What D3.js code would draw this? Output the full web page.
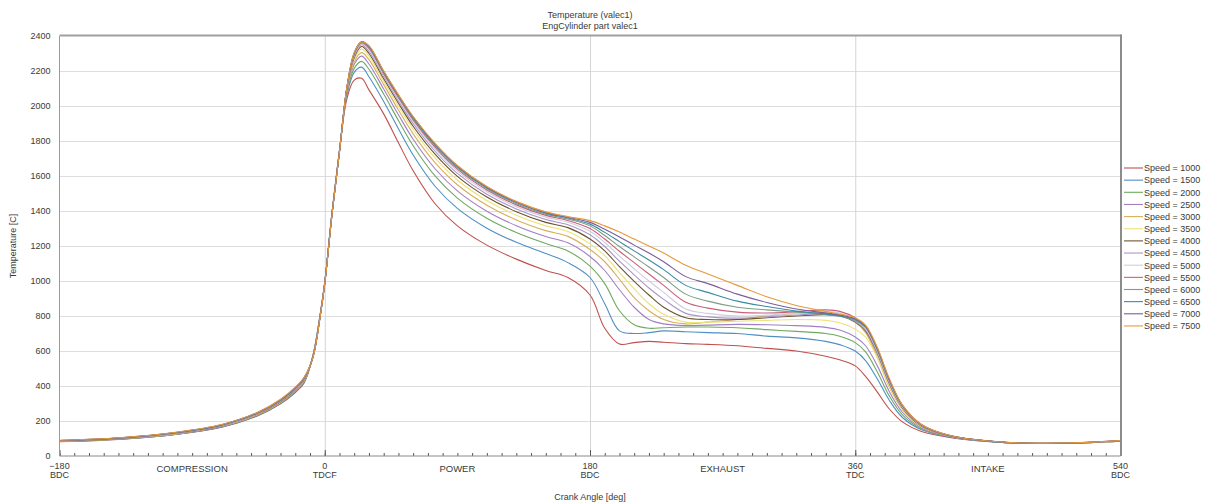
<!DOCTYPE html>
<html>
<head>
<meta charset="utf-8">
<script src="https://cdn.jsdelivr.net/npm/d3@7"></script>
<style>
  html, body { margin: 0; padding: 0; background: #fff; }
  svg text { font-family: "Liberation Sans", Arial, sans-serif; fill: #3a3a3a; }
</style>
</head>
<body>
<svg id="chart" width="1205" height="504"></svg>
<script>
// Crank angle grid [deg] shared by all speed series
const crankAngles = [-180, -140, -100, -70, -45, -30, -20, -14, -8, -3, 0, 5, 10, 15, 20, 25, 30, 40, 50, 60, 75, 90, 110, 130, 150, 165, 180,
  190, 200, 210, 220, 230, 245, 260, 280, 300, 320, 340, 350, 360, 367, 375, 383, 392, 405, 425, 460, 500, 540];

const speeds = [1000, 1500, 2000, 2500, 3000, 3500, 4000, 4500, 5000, 5500, 6000, 6500, 7000, 7500];

// In-cylinder temperature [C] for each engine speed
const tempS1000 = [82, 95, 124, 165, 232, 298, 363, 418, 575, 815, 992, 1395, 1745, 2040, 2148, 2158, 2092, 1955, 1790, 1630, 1440, 1315, 1205, 1125, 1060, 1020, 920,
  730, 640, 648, 655, 650, 642, 638, 630, 615, 600, 570, 548, 515, 455, 365, 270, 195, 140, 105, 78, 72, 84];
const tempS1500 = [83, 96, 125, 166, 234, 300, 366, 421, 573, 813, 991, 1394, 1744, 2060, 2192, 2222, 2167, 2026, 1870, 1720, 1540, 1415, 1302, 1221, 1157, 1105, 1020,
  870, 715, 700, 705, 715, 710, 705, 700, 685, 675, 655, 635, 600, 545, 440, 320, 220, 150, 108, 78, 72, 84];
const tempS2000 = [83, 96, 126, 167, 235, 302, 368, 424, 572, 812, 990, 1393, 1744, 2070, 2215, 2255, 2210, 2068, 1917, 1773, 1599, 1474, 1359, 1277, 1214, 1172, 1085,
  985, 830, 750, 730, 733, 737, 737, 733, 722, 712, 700, 683, 648, 595, 480, 345, 235, 155, 110, 78, 72, 85];
const tempS2500 = [84, 97, 127, 168, 237, 304, 371, 427, 571, 811, 990, 1392, 1743, 2078, 2238, 2285, 2240, 2097, 1950, 1810, 1640, 1515, 1399, 1316, 1254, 1218, 1140,
  1060, 950, 850, 780, 755, 745, 748, 752, 750, 745, 735, 718, 680, 630, 515, 370, 250, 160, 110, 78, 72, 85];
const tempS3000 = [85, 98, 128, 170, 239, 306, 374, 430, 570, 810, 989, 1391, 1743, 2085, 2252, 2305, 2265, 2122, 1977, 1841, 1675, 1550, 1433, 1349, 1288, 1255, 1180,
  1110, 1010, 905, 830, 780, 755, 765, 780, 800, 815, 820, 805, 765, 705, 565, 395, 265, 165, 112, 78, 72, 85];
const tempS3500 = [85, 99, 129, 171, 240, 308, 376, 432, 569, 809, 989, 1390, 1742, 2090, 2265, 2325, 2285, 2141, 1999, 1866, 1702, 1577, 1460, 1376, 1315, 1283, 1212,
  1145, 1048, 955, 870, 810, 765, 765, 770, 775, 780, 775, 760, 725, 680, 560, 400, 268, 167, 112, 78, 72, 85];
const tempS4000 = [86, 99, 130, 172, 242, 310, 378, 435, 568, 808, 988, 1390, 1742, 2094, 2277, 2340, 2300, 2156, 2016, 1884, 1723, 1598, 1480, 1396, 1335, 1305, 1240,
  1172, 1082, 998, 920, 850, 790, 780, 780, 790, 800, 808, 800, 765, 715, 585, 415, 275, 170, 113, 78, 72, 86];
const tempS4500 = [86, 100, 131, 173, 243, 312, 381, 437, 567, 807, 988, 1389, 1741, 2097, 2285, 2350, 2312, 2168, 2029, 1900, 1740, 1615, 1496, 1412, 1351, 1322, 1264,
  1197, 1113, 1035, 960, 895, 815, 795, 788, 795, 805, 815, 805, 770, 720, 590, 420, 278, 172, 113, 78, 72, 86];
const tempS5000 = [87, 101, 132, 174, 245, 314, 383, 440, 566, 806, 987, 1389, 1741, 2100, 2290, 2356, 2322, 2178, 2040, 1912, 1754, 1629, 1510, 1425, 1365, 1336, 1284,
  1220, 1142, 1070, 1000, 935, 840, 815, 800, 805, 815, 825, 815, 780, 730, 600, 428, 282, 174, 114, 79, 73, 86];
const tempS5500 = [88, 101, 133, 176, 246, 316, 385, 442, 566, 806, 987, 1388, 1740, 2102, 2295, 2360, 2330, 2185, 2049, 1921, 1764, 1639, 1520, 1435, 1375, 1346, 1300,
  1240, 1170, 1105, 1040, 975, 878, 845, 822, 817, 825, 835, 825, 790, 740, 608, 433, 285, 176, 114, 79, 73, 87];
const tempS6000 = [88, 102, 134, 177, 248, 318, 387, 444, 565, 805, 986, 1388, 1740, 2103, 2298, 2363, 2335, 2190, 2054, 1928, 1771, 1646, 1527, 1442, 1382, 1354, 1315,
  1260, 1197, 1138, 1080, 1020, 925, 885, 850, 835, 822, 808, 797, 775, 735, 606, 435, 287, 177, 115, 79, 73, 87];
const tempS6500 = [89, 103, 135, 178, 249, 320, 389, 446, 565, 805, 986, 1387, 1739, 2104, 2302, 2366, 2340, 2195, 2060, 1934, 1778, 1653, 1533, 1448, 1388, 1360, 1325,
  1278, 1225, 1172, 1120, 1065, 975, 935, 885, 854, 828, 812, 800, 780, 740, 612, 438, 289, 178, 115, 79, 73, 87];
const tempS7000 = [89, 103, 136, 179, 251, 322, 391, 448, 564, 804, 985, 1387, 1739, 2105, 2305, 2368, 2342, 2198, 2062, 1937, 1782, 1657, 1537, 1452, 1392, 1364, 1335,
  1296, 1252, 1205, 1160, 1110, 1025, 985, 925, 877, 840, 817, 805, 785, 742, 616, 440, 290, 179, 115, 80, 73, 88];
const tempS7500 = [90, 104, 137, 180, 252, 324, 393, 450, 564, 804, 985, 1386, 1738, 2105, 2305, 2366, 2345, 2200, 2065, 1940, 1785, 1660, 1540, 1455, 1395, 1368, 1345,
  1315, 1280, 1240, 1200, 1160, 1090, 1040, 975, 910, 860, 826, 810, 790, 748, 620, 445, 292, 180, 116, 80, 74, 88];

const seriesTemps = [tempS1000, tempS1500, tempS2000, tempS2500, tempS3000, tempS3500, tempS4000,
  tempS4500, tempS5000, tempS5500, tempS6000, tempS6500, tempS7000, tempS7500];

const seriesColors = ["#c0504d", "#4f8fc4", "#6faa60", "#a080c4", "#d9ae5c", "#ece276", "#6b5331",
  "#a996c8", "#cfcde0", "#c9607a", "#7f9c86", "#3a8ca2", "#7b5c9c", "#e59a3c"];

// Axis ticks and labels
const yTickValues = [0, 200, 400, 600, 800, 1000, 1200, 1400, 1600, 1800, 2000, 2200, 2400];
const xTickValues = [-180, 0, 180, 360, 540];
const xTickNames = ["BDC", "TDCF", "BDC", "TDC", "BDC"];
const phaseAngles = [-90, 90, 270, 450];
const phaseNames = ["COMPRESSION", "POWER", "EXHAUST", "INTAKE"];

const plotL = 59.5, plotR = 1120.5, plotT = 36, plotB = 456;

const svg = d3.select("#chart");
const x = d3.scaleLinear().domain([-180, 540]).range([plotL, plotR]);
const y = d3.scaleLinear().domain([0, 2400]).range([plotB, plotT]);

// horizontal grid
svg.append("g")
  .attr("transform", `translate(${plotL},0)`)
  .call(d3.axisLeft(y).tickValues(yTickValues.slice(1, -1)).tickSize(-(plotR - plotL)).tickFormat(""))
  .call(g => g.select(".domain").remove())
  .call(g => g.selectAll("line").attr("stroke", "#dedede").attr("stroke-width", 1));

// vertical grid at TDC/BDC
svg.append("g")
  .attr("transform", `translate(0,${plotB})`)
  .call(d3.axisBottom(x).tickValues(xTickValues.slice(1, -1)).tickSize(-(plotB - plotT)).tickFormat(""))
  .call(g => g.select(".domain").remove())
  .call(g => g.selectAll("line").attr("stroke", "#d4d4d4").attr("stroke-width", 1));

// minor x ticks every 10 deg, pointing inward
svg.append("g")
  .attr("transform", `translate(0,${plotB})`)
  .call(d3.axisBottom(x).tickValues(d3.range(-180, 541, 10)).tickSize(-3).tickFormat(""))
  .call(g => g.select(".domain").remove())
  .call(g => g.selectAll("line").attr("stroke", "#555").attr("stroke-width", 1));
svg.append("g")
  .attr("transform", `translate(0,${plotB})`)
  .call(d3.axisBottom(x).tickValues(xTickValues).tickSize(-6).tickFormat(""))
  .call(g => g.select(".domain").remove())
  .call(g => g.selectAll("line").attr("stroke", "#555").attr("stroke-width", 1));

// series lines
const line = d3.line()
  .x((d, i) => x(crankAngles[i]))
  .y(d => y(d))
  .curve(d3.curveCatmullRom.alpha(0.5));

svg.append("g")
  .attr("fill", "none")
  .selectAll("path")
  .data(seriesTemps)
  .join("path")
  .attr("d", d => line(d))
  .attr("stroke", (d, i) => seriesColors[i])
  .attr("stroke-width", 1.1)
  .attr("stroke-linejoin", "round");

// frame
const frame = svg.append("g").attr("fill", "none");
frame.append("line").attr("x1", plotL).attr("x2", plotL).attr("y1", plotT).attr("y2", plotB).attr("stroke", "#9a9a9a");
frame.append("line").attr("x1", plotL).attr("x2", plotR).attr("y1", plotB).attr("y2", plotB).attr("stroke", "#8a8a8a");
frame.append("line").attr("x1", plotL).attr("x2", plotR + 1).attr("y1", plotT - 0.5).attr("y2", plotT - 0.5).attr("stroke", "#a0a0a0").attr("stroke-width", 2);
frame.append("line").attr("x1", plotR + 0.5).attr("x2", plotR + 0.5).attr("y1", plotT - 1.5).attr("y2", plotB).attr("stroke", "#8c8c8c").attr("stroke-width", 2);

// y axis labels
svg.append("g")
  .attr("transform", `translate(${plotL},0)`)
  .call(d3.axisLeft(y).tickValues(yTickValues).tickSize(0).tickPadding(9).tickFormat(d3.format("d")))
  .call(g => g.select(".domain").remove())
  .call(g => g.selectAll("text")
    .style("font-family", '"Liberation Sans", Arial, sans-serif')
    .style("font-size", "9px").attr("fill", "#3a3a3a"));

// x axis labels: angle with dead-centre name below
const xLab = svg.append("g").attr("font-size", "9px").attr("text-anchor", "middle");
xTickValues.forEach((v, i) => {
  const t = xLab.append("text").attr("x", x(v)).attr("y", 469);
  t.append("tspan").attr("x", x(v)).text(d3.format("d")(v));
  t.append("tspan").attr("x", x(v)).attr("dy", 9).text(xTickNames[i]);
});
phaseAngles.forEach((v, i) => {
  xLab.append("text").attr("x", x(v)).attr("y", 472).attr("font-size", "9.5px").text(phaseNames[i]);
});

// axis titles
svg.append("text").attr("x", (plotL + plotR) / 2).attr("y", 500).attr("text-anchor", "middle")
  .attr("font-size", "9px").text("Crank Angle [deg]");
svg.append("text").attr("transform", `translate(16,${(plotT + plotB) / 2}) rotate(-90)`)
  .attr("text-anchor", "middle").attr("font-size", "9px").text("Temperature [C]");

// chart titles
svg.append("text").attr("x", (plotL + plotR) / 2).attr("y", 18).attr("text-anchor", "middle")
  .attr("font-size", "9px").text("Temperature (valec1)");
svg.append("text").attr("x", (plotL + plotR) / 2).attr("y", 29).attr("text-anchor", "middle")
  .attr("font-size", "9px").text("EngCylinder part valec1");

// legend
const legend = svg.append("g").attr("transform", "translate(1124,168)");
speeds.forEach((s, i) => {
  const row = legend.append("g").attr("transform", `translate(0,${i * 12.15})`);
  row.append("line").attr("x1", 0).attr("x2", 19).attr("y1", 0).attr("y2", 0)
    .attr("stroke", seriesColors[i]).attr("stroke-width", 1.1);
  row.append("text").attr("x", 20).attr("y", 3.3).attr("font-size", "9px").text(`Speed = ${s}`);
});
</script>
</body>
</html>
